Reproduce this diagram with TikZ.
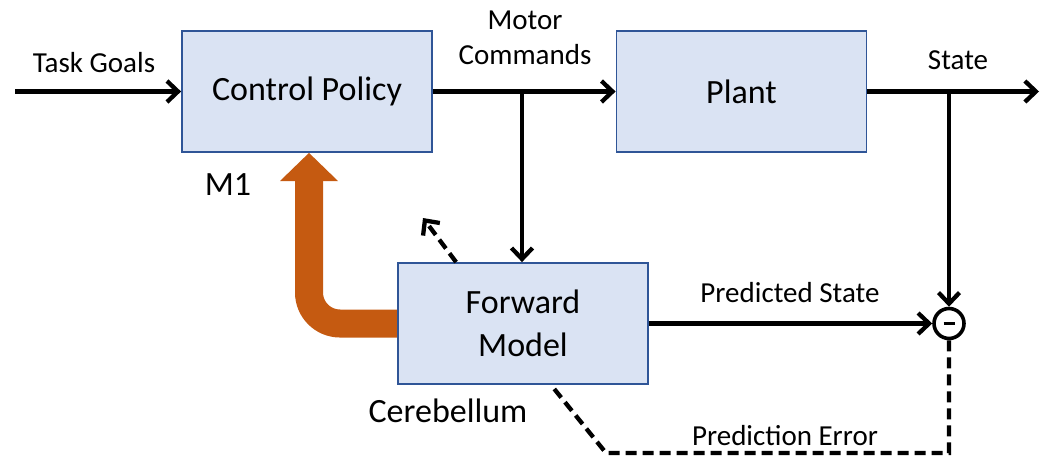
\documentclass[tikz,border=0pt]{standalone}
\usepackage{fontspec}
\setmainfont{Carlito}
\usetikzlibrary{arrows.meta,calc}
\definecolor{boxfill}{HTML}{DAE3F3}
\definecolor{boxline}{HTML}{2F5597}
\definecolor{orng}{HTML}{C55A11}
\pgfdeclarelayer{bg}
\pgfsetlayers{bg,main}
\begin{document}
\begin{tikzpicture}[x=1pt,y=-1pt,
  blk/.style={draw=boxline, fill=boxfill, line width=1.8pt, minimum width=250pt, minimum height=121pt, inner sep=0pt, font=\fontsize{34}{43}\selectfont, align=center},
  lbl/.style={inner sep=0pt, font=\fontsize{29}{35}\selectfont, align=center},
  big/.style={inner sep=0pt, font=\fontsize{34}{43}\selectfont},
  sig/.style={line width=4.3pt, -{Straight Barb[length=11pt,width=21pt]}},
  dsh/.style={line width=4.3pt, dash pattern=on 11pt off 6pt},
  sumnode/.style={circle, draw, fill=white, line width=3.6pt, minimum size=30pt, inner sep=0pt}
]
\useasboundingbox (0,0) rectangle (1041,456);
% blocks
\node[blk] (cp) at (307,91.5) {Control Policy};
\node[blk] (pl) at (741.5,91.5) {Plant};
\node[blk] (fm) at (523,323.5) {Forward\\Model};
\node[sumnode] (sum) at (949,323.5) {};
\draw[line width=3.2pt] ($(sum.center)+(-5.5,0)$) -- ($(sum.center)+(5.5,0)$);
% coordinates
\coordinate (in) at (15,91.5);
\coordinate (out) at (1039,91.5);
\coordinate (j1) at (522,91.5);
\coordinate (j2) at (949,91.5);
\coordinate (d1) at (949,453);
\coordinate (d2) at (606,453);
\coordinate (d3) at ($(fm.south)+(28,0)$);
\coordinate (dt0) at ($(fm.north west)+(59,0)$);
\coordinate (dtip) at (423,218);
\coordinate (oc) at (309,180);
% signal arrows
\draw[sig] (in) -- (cp.west);
\draw[sig] (cp.east) -- (pl.west);
\draw[sig] (j1) -- (j1 |- fm.north);
\draw[sig] (pl.east) -- (out);
\draw[sig] (j2) -- (sum.north);
\draw[sig] (fm.east) -- (sum.west);
% dashed
\draw[dsh] (sum.south) -- (d1) -- (d2) -- (d3);
\draw[dsh, -{Straight Barb[length=11pt,width=21pt]}] (dt0) -- (dtip);
% orange
\begin{pgfonlayer}{bg}
\draw[orng, line width=28pt, rounded corners=31pt] (fm.west) -| (oc);
\fill[orng] ($(oc)+(-29,1)$) -- ($(oc)+(29,1)$) -- (oc |- cp.south) -- cycle;
\end{pgfonlayer}
% labels
\node[lbl, anchor=base] (tg) at (94,72) {Task Goals};
\node[lbl, anchor=south] (mc) at (525,65) {Motor\\Commands};
\node[lbl, anchor=base] (st) at (958,69) {State};
\node[lbl, anchor=base] (ps) at (790,302) {Predicted State};
\node[lbl, anchor=base] (pe) at (785,445) {Prediction Error};
\node[big, anchor=base] (m1) at (228,195) {M1};
\node[big, anchor=base] (cb) at (448,422) {Cerebellum};
\end{tikzpicture}
\end{document}
